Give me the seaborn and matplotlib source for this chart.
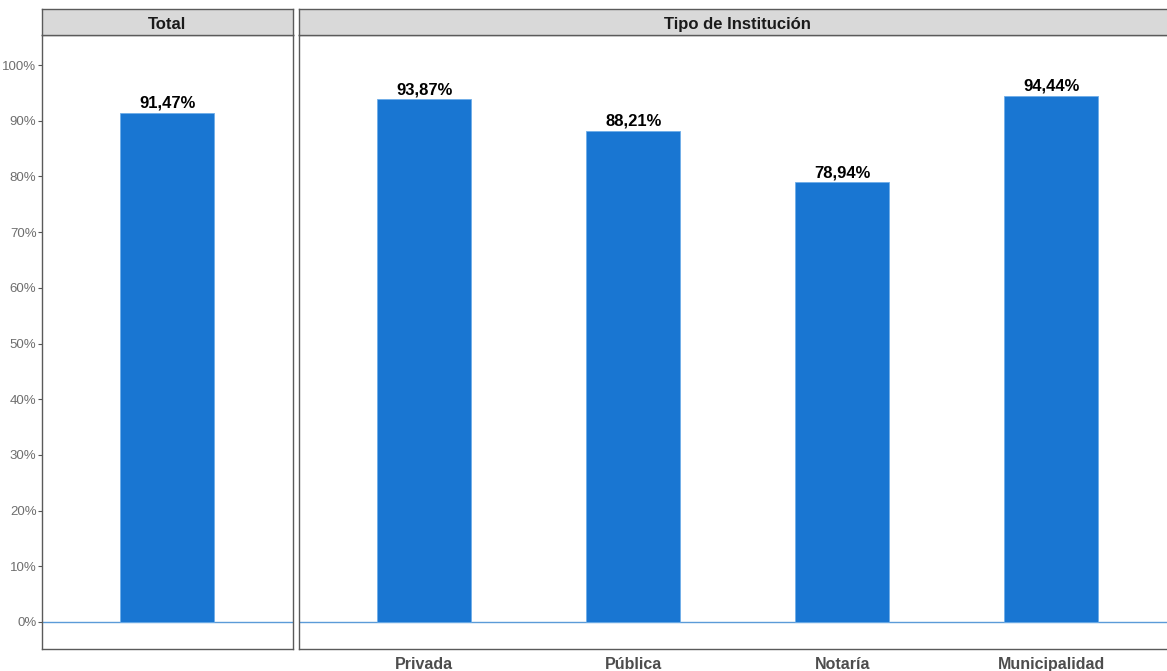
import matplotlib
matplotlib.use("Agg")
import matplotlib.pyplot as plt
import seaborn as sns
import pandas as pd
from matplotlib.ticker import FuncFormatter

# datos
total_label = ["Total"]
total_valor = [91.47]
instituciones = ["Privada", "Pública", "Notaría", "Municipalidad"]
valores = [93.87, 88.21, 78.94, 94.44]
y_ticks = [0, 10, 20, 30, 40, 50, 60, 70, 80, 90, 100]

sns.set_style("white")
plt.rcParams["font.family"] = ["Liberation Sans", "DejaVu Sans"]

azul = "#1976D2"
W, H = 1167, 671
fig = plt.figure(figsize=(W / 100, H / 100), dpi=100)

px = 209.0  # ancho de una categoria en pixeles
panel_bot = (H - 649) / H
panel_h = 614 / H
strip_bot = (H - 35) / H
strip_h = 26 / H

ax1 = fig.add_axes([42 / W, panel_bot, 1.2 * px / W, panel_h])
ax2 = fig.add_axes([299 / W, panel_bot, 4.2 * px / W, panel_h])

df1 = pd.DataFrame({"cat": total_label, "val": total_valor})
df2 = pd.DataFrame({"cat": instituciones, "val": valores})

for ax, df, titulo in [(ax1, df1, "Total"), (ax2, df2, "Tipo de Institución")]:
    sns.barplot(data=df, x="cat", y="val", color=azul, saturation=1,
                width=0.45, edgecolor="#6FAEE8", linewidth=0.6, ax=ax)
    ax.set_xlim(-0.6, len(df) - 0.4)
    ax.set_ylim(-4.85, 105.4)
    ax.axhline(0, color="#5B9BD8", lw=1, zorder=0.5)
    ax.set_xlabel("")
    ax.set_ylabel("")
    for s in ax.spines.values():
        s.set_visible(True)
        s.set_color("#5A5A5A")
        s.set_linewidth(1)
    labs = [f"{v:.2f}".replace(".", ",") + "%" for v in df["val"]]
    ax.bar_label(ax.containers[0], labels=labs, padding=1.5,
                 fontsize=12, fontweight="bold", color="black")
    # franja del facet
    pos = ax.get_position()
    sax = fig.add_axes([pos.x0, strip_bot, pos.width, strip_h])
    sax.set_xticks([])
    sax.set_yticks([])
    sax.set_facecolor("#D9D9D9")
    for s in sax.spines.values():
        s.set_color("#5A5A5A")
        s.set_linewidth(1)
    sax.text(0.5, 0.24, titulo, ha="center", va="baseline",
             fontsize=12, fontweight="bold", color="#1A1A1A",
             transform=sax.transAxes)

ax1.set_yticks(y_ticks)
ax1.yaxis.set_major_formatter(FuncFormatter(lambda v, p: f"{v:.0f}%"))
ax1.tick_params(axis="y", left=True, length=3, color="#555555",
                labelsize=9.5, labelcolor="#6E6E6E", pad=1)
ax1.set_xticks([])

ax2.set_yticks(y_ticks)
ax2.tick_params(axis="y", left=False, labelleft=False)
ax2.tick_params(axis="x", length=0, pad=6, labelsize=11.5, labelcolor="#4D4D4D")
for t in ax2.get_xticklabels():
    t.set_fontweight("bold")

fig.savefig("out.png", dpi=100)
